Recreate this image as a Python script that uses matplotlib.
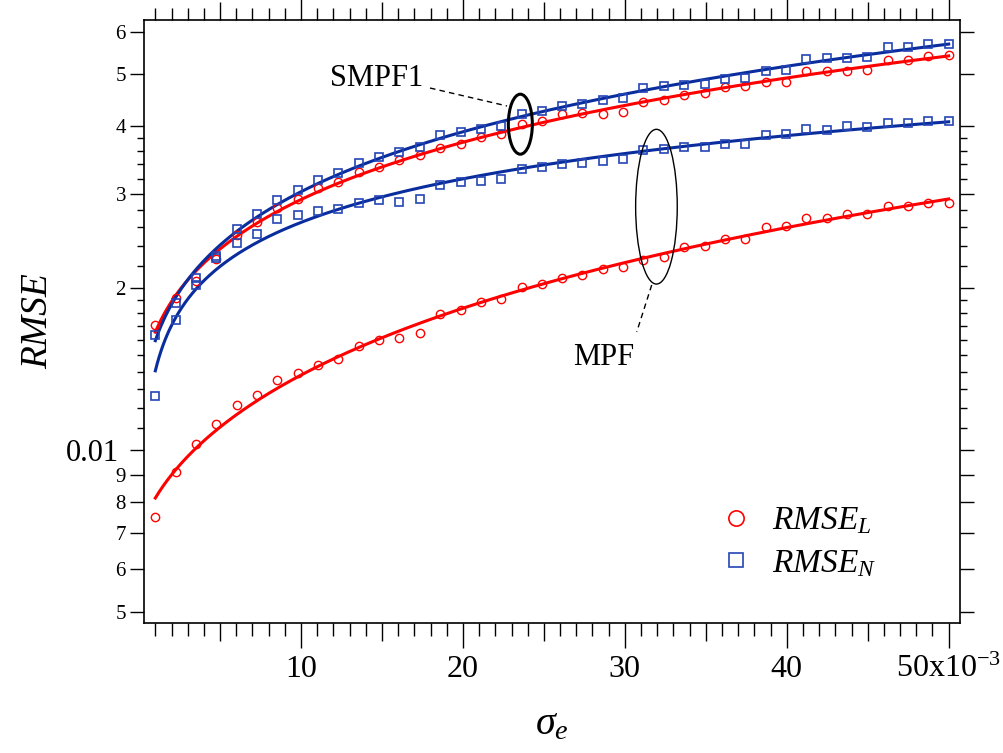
import numpy as np
import matplotlib
matplotlib.use("Agg")
import matplotlib.pyplot as plt
from matplotlib.lines import Line2D
from matplotlib.patches import Ellipse

plt.rcParams['font.family'] = ['Liberation Serif', 'DejaVu Serif']
plt.rcParams['mathtext.fontset'] = 'custom'
plt.rcParams['mathtext.rm'] = 'Liberation Serif'
plt.rcParams['mathtext.it'] = 'Liberation Serif:italic'
plt.rcParams['mathtext.default'] = 'regular'

# sigma_e in units of 1e-3
sigma_e = np.array([1.00, 2.26, 3.51, 4.77, 6.03, 7.28, 8.54, 9.79, 11.05, 12.31,
                    13.56, 14.82, 16.08, 17.33, 18.59, 19.85, 21.10, 22.36, 23.62, 24.87,
                    26.13, 27.38, 28.64, 29.90, 31.15, 32.41, 33.67, 34.92, 36.18, 37.44,
                    38.69, 39.95, 41.21, 42.46, 43.72, 44.97, 46.23, 47.49, 48.74, 50.00])

# SMPF1
smpf1_N = [0.01639, 0.01875, 0.02087, 0.02296, 0.02581, 0.02749, 0.02923, 0.03047, 0.03180, 0.03281,
           0.03424, 0.03505, 0.03585, 0.03668, 0.03857, 0.03912, 0.03962, 0.04008, 0.04225, 0.04280,
           0.04367, 0.04410, 0.04486, 0.04525, 0.04723, 0.04757, 0.04771, 0.04804, 0.04902, 0.04923,
           0.05080, 0.05102, 0.05333, 0.05357, 0.05370, 0.05379, 0.05616, 0.05616, 0.05688, 0.05688]
smpf1_L = [0.01711, 0.01920, 0.02063, 0.02264, 0.02509, 0.02653, 0.02818, 0.02928, 0.03069, 0.03153,
           0.03291, 0.03362, 0.03464, 0.03539, 0.03648, 0.03706, 0.03828, 0.03878, 0.04037, 0.04089,
           0.04214, 0.04237, 0.04219, 0.04256, 0.04442, 0.04486, 0.04577, 0.04617, 0.04731, 0.04751,
           0.04833, 0.04845, 0.05067, 0.05067, 0.05073, 0.05089, 0.05318, 0.05318, 0.05417, 0.05427]
# MPF
mpf_N = [0.01262, 0.01746, 0.02028, 0.02274, 0.02424, 0.02523, 0.02694, 0.02733, 0.02781, 0.02808,
         0.02885, 0.02915, 0.02890, 0.02928, 0.03117, 0.03153, 0.03167, 0.03190, 0.03333, 0.03366,
         0.03410, 0.03420, 0.03445, 0.03479, 0.03611, 0.03632, 0.03659, 0.03668, 0.03706, 0.03706,
         0.03862, 0.03873, 0.03952, 0.03945, 0.04008, 0.03996, 0.04064, 0.04064, 0.04100, 0.04100]
mpf_L = [0.007505, 0.009113, 0.01026, 0.01119, 0.01213, 0.01269, 0.01348, 0.01389, 0.01438, 0.01475,
         0.01562, 0.01602, 0.01618, 0.01649, 0.01793, 0.01822, 0.01883, 0.01907, 0.02011, 0.02037,
         0.02092, 0.02114, 0.02175, 0.02193, 0.02257, 0.02284, 0.02386, 0.02397, 0.02466, 0.02466,
         0.02603, 0.02615, 0.02699, 0.02699, 0.02753, 0.02746, 0.02844, 0.02844, 0.02881, 0.02881]

red = '#ff0000'
blue_line = '#0a2d9e'
blue_mk = '#2444b4'

fig = plt.figure(figsize=(10.04, 7.53), dpi=100)
ax = fig.add_axes([144/1004, 1-623/753, 816/1004, 603/753])

x = sigma_e * 1e-3
xf = np.linspace(sigma_e[0], sigma_e[-1], 400)


# power law fit y = y0 + A*x^p (grid over p, least squares for y0, A)
def power_fit(y):
    y = np.asarray(y)
    best = None
    for p in np.linspace(0.02, 2.0, 991):
        M = np.column_stack([np.ones_like(sigma_e), sigma_e ** p])
        coef = np.linalg.lstsq(M, y, rcond=None)[0]
        sse = np.sum((M @ coef - y) ** 2)
        if best is None or sse < best[0]:
            best = (sse, p, coef)
    _, p, coef = best
    return coef[0] + coef[1] * xf ** p


for y, col in [(mpf_L, red), (mpf_N, blue_line), (smpf1_L, red), (smpf1_N, blue_line)]:
    ax.plot(xf * 1e-3, power_fit(y), color=col, lw=2.2, zorder=2)

for y in [smpf1_L, mpf_L]:
    ax.plot(x, y, 'o', ms=6, mfc='none', mec=red, mew=1.0, zorder=3)
for y in [smpf1_N, mpf_N]:
    ax.plot(x, y, 's', ms=6, mfc='none', mec=blue_mk, mew=1.2, zorder=3)

ax.set_yscale('log')
ax.set_xlim(0.3e-3, 50.7e-3)
ax.set_ylim(0.00477, 0.0631)

# y ticks
ymaj = [0.005, 0.006, 0.007, 0.008, 0.009, 0.01, 0.02, 0.03, 0.04, 0.05, 0.06]
ylab = ['5', '6', '7', '8', '9', '0.01', '2', '3', '4', '5', '6']
ymin = [0.011, 0.012, 0.013, 0.014, 0.015, 0.016, 0.017, 0.018, 0.019,
        0.022, 0.024, 0.026, 0.028, 0.032, 0.034, 0.036, 0.038]
ax.set_yticks(ymaj)
ax.set_yticklabels(ylab)
ax.set_yticks(ymin, minor=True)
ax.yaxis.set_minor_formatter(plt.NullFormatter())

# x ticks
xmaj = [5, 10, 15, 20, 25, 30, 35, 40, 45, 50]
xlab = ['', '10', '', '20', '', '30', '', '40', '', r'50x10$^{-3}$']
xmin = [v for v in range(1, 51) if v % 5 != 0]
ax.set_xticks([v * 1e-3 for v in xmaj])
ax.set_xticklabels(xlab)
ax.set_xticks([v * 1e-3 for v in xmin], minor=True)

ax.tick_params(axis='both', which='both', direction='out', top=True, right=True, width=1.0, color='black')
ax.tick_params(axis='y', which='major', length=10, labelsize=15, pad=3)
ax.tick_params(axis='y', which='minor', length=5)
ax.tick_params(axis='x', which='major', length=13, labelsize=23, pad=10)
ax.tick_params(axis='x', which='minor', length=9)

for t, v in zip(ax.xaxis.get_major_ticks(), xmaj):
    if v % 10 == 0:
        t.tick1line.set_markersize(18)
        t.tick2line.set_markersize(18)
for t, v in zip(ax.yaxis.get_major_ticks(), ymaj):
    if v == 0.01:
        t.tick1line.set_markersize(19)
        t.tick2line.set_markersize(19)
        t.set_pad(8)
        t.label1.set_fontsize(22)

for s in ax.spines.values():
    s.set_linewidth(1.2)

ax.set_ylabel('RMSE', fontstyle='italic', fontsize=27, labelpad=8)
ax.set_xlabel(r'$\mathit{\sigma}_\mathit{e}$', fontsize=29, labelpad=16)

# annotations
ax.add_patch(Ellipse((0.4612, 0.8272), 0.0294, 0.0995, transform=ax.transAxes,
                     fill=False, lw=2.2, ec='black', zorder=4))
ax.add_patch(Ellipse((0.628, 0.6904), 0.051, 0.2566, transform=ax.transAxes,
                     fill=False, lw=1.0, ec='black', zorder=4))
ax.plot([0.3505, 0.4449], [0.8872, 0.8574], transform=ax.transAxes, color='black',
        lw=1.0, ls=(0, (4, 3)), zorder=4)
ax.plot([0.6222, 0.6038], [0.5605, 0.4826], transform=ax.transAxes, color='black',
        lw=1.0, ls=(0, (4, 3)), zorder=4)
ax.text(0.2849, 0.8905, 'SMPF1', transform=ax.transAxes, fontsize=22, ha='center', va='baseline')
ax.text(0.5637, 0.4279, 'MPF', transform=ax.transAxes, fontsize=22, ha='center', va='baseline')

handles = [Line2D([], [], ls='none', marker='o', ms=11, mfc='none', mec=red, mew=1.2),
           Line2D([], [], ls='none', marker='s', ms=10, mfc='none', mec=blue_mk, mew=1.2)]
labels = [r'$\mathit{RMSE}_\mathit{L}$', r'$\mathit{RMSE}_\mathit{N}$']
ax.legend(handles, labels, loc='upper left', bbox_to_anchor=(0.68, 0.222), frameon=False,
          fontsize=24, handletextpad=0.5, labelspacing=0.35, borderpad=0, handlelength=1.2)

fig.savefig('out.png', dpi=100)
